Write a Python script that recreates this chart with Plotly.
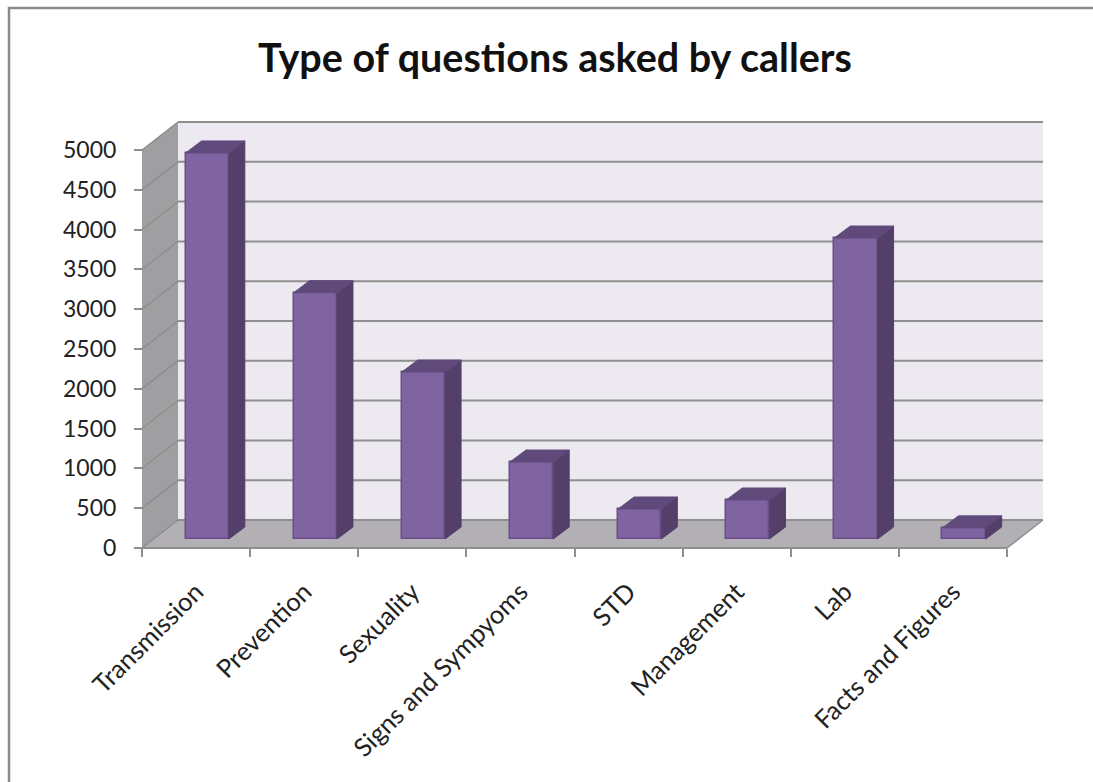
import plotly.graph_objects as go

categories = ["Transmission", "Prevention", "Sexuality", "Signs and Sympyoms",
              "STD", "Management", "Lab", "Facts and Figures"]
values = [4850, 3095, 2098, 967, 377, 490, 3781, 140]
y_ticks = list(range(0, 5001, 500))
title = "Type of questions asked by callers"

W, H = 1093, 782
PX_X0, PX_X8, PX_Y0, PX_Y5000 = 142.0, 1007.0, 548.0, 150.0
PAD = 4
PX_RIGHT, PX_TOP = 1045.0, 122.0
ux = (PX_X8 - PX_X0) / 8
uy = (PX_Y0 - PX_Y5000) / 5000

wall_dx, wall_dy = 36 / ux, 28 / uy      # depth of the chart box
bar_fx, bar_fy = 0.103, 9 / uy           # bar offset from the front edge
bar_dx, bar_dy = 16 / ux, 12 / uy        # depth of a bar
bar_w = 0.40

C_FRONT, C_EDGE, C_SIDE, C_TOP = "#8064A2", "#6A4F8C", "#533F69", "#604A7B"
C_WALL, C_SIDEWALL, C_FLOOR, C_GRID = "#ECEAF0", "#9F9FA1", "#B2B0B4", "#8F8F8F"
C_TEXT = "#222222"
FONT = "Lato"

x_range = [-PAD / ux, (PX_RIGHT - PX_X0) / ux + PAD / ux]
y_range = [-PAD / uy, (PX_Y0 - PX_TOP) / uy + PAD / uy]
L, R = PX_X0 - PAD, PX_RIGHT + PAD
B, T = PX_Y0 + PAD, PX_TOP - PAD


def poly(pts, fill):
    path = "M" + " L".join(f"{x},{y}" for x, y in pts) + " Z"
    return dict(type="path", path=path, xref="x", yref="y", fillcolor=fill,
                line=dict(width=0), layer="below")


def seg(x0, y0, x1, y1, color=C_GRID, width=2):
    return dict(type="line", x0=x0, y0=y0, x1=x1, y1=y1, xref="x", yref="y",
                line=dict(color=color, width=width), layer="below")


shapes = [
    poly([(wall_dx, wall_dy), (8 + wall_dx, wall_dy), (8 + wall_dx, 5000 + wall_dy), (wall_dx, 5000 + wall_dy)], C_WALL),
    poly([(0, 0), (wall_dx, wall_dy), (wall_dx, 5000 + wall_dy), (0, 5000)], C_SIDEWALL),
    poly([(0, 0), (8, 0), (8 + wall_dx, wall_dy), (wall_dx, wall_dy)], C_FLOOR),
]
for v in y_ticks:
    shapes.append(seg(wall_dx, v + wall_dy, 8 + wall_dx, v + wall_dy))
    shapes.append(seg(0, v, wall_dx, v + wall_dy, color="#8A8A8C", width=1.2))
shapes.append(seg(0, 0, 8, 0))
shapes.append(seg(8, 0, 8 + wall_dx, wall_dy, width=1.5))
# chart frame: left and top edges only
shapes.append(dict(type="path", xref="paper", yref="paper",
                   path=f"M{(9 - L) / (R - L)},{(B - H) / (B - T)} L{(9 - L) / (R - L)},{(B - 8) / (B - T)} L{(W - L) / (R - L)},{(B - 8) / (B - T)}",
                   line=dict(color="#8A8A8A", width=2.5), layer="below"))

centers = [i + 0.5 + bar_fx for i in range(len(values))]
fig = go.Figure()
fig.add_trace(go.Bar(x=centers, y=values, base=bar_fy, width=bar_w,
                     marker=dict(color=C_FRONT, line=dict(color=C_EDGE, width=1.5)),
                     showlegend=False))

# side and top faces of each bar, derived from the values
for c, v in zip(centers, values):
    xl, xr = c - bar_w / 2, c + bar_w / 2
    yb, yt = bar_fy, bar_fy + v
    fig.add_trace(go.Scatter(x=[xr, xr + bar_dx, xr + bar_dx, xr, xr],
                             y=[yb, yb + bar_dy, yt + bar_dy, yt, yb],
                             fill="toself", fillcolor=C_SIDE, mode="lines",
                             line=dict(color=C_SIDE, width=1), showlegend=False, hoverinfo="skip"))
    fig.add_trace(go.Scatter(x=[xl, xr, xr + bar_dx, xl + bar_dx, xl],
                             y=[yt, yt, yt + bar_dy, yt + bar_dy, yt],
                             fill="toself", fillcolor=C_TOP, mode="lines",
                             line=dict(color=C_TOP, width=1), showlegend=False, hoverinfo="skip"))

fig.update_layout(
    width=W, height=H, autosize=False,
    margin=dict(l=L, r=W - R, t=T, b=H - B, pad=0),
    paper_bgcolor="white", plot_bgcolor="white",
    shapes=shapes, bargap=0,
    font=dict(family=FONT, color=C_TEXT, size=23),
    title=dict(text=f"<b>{title}</b>", x=555 / W, xanchor="center", y=1 - 58 / H, yanchor="middle",
               font=dict(family=FONT, size=39.5, color="#111111")),
    xaxis=dict(range=x_range, anchor="free", position=(B - PX_Y0) / (B - T) * 1.0,
               domain=[0, 1], showgrid=False, zeroline=False, showline=False,
               tickmode="array", tickvals=[i + 0.5 for i in range(8)], ticktext=categories,
               ticks="", tickangle=-45, ticklabelstandoff=23,
               tickfont=dict(size=25.5, family=FONT, color=C_TEXT),
               minor=dict(tickmode="array", tickvals=list(range(9)), ticks="outside", ticklen=8,
                          tickwidth=2, tickcolor=C_GRID, showgrid=False)),
    yaxis=dict(range=y_range, anchor="free", position=(PX_X0 - L) / (R - L),
               domain=[0, 1], showgrid=False, zeroline=False, showline=False,
               tickmode="array", tickvals=y_ticks, ticks="outside", ticklen=8, tickwidth=2,
               ticklabelstandoff=13,
               tickcolor=C_GRID, tickfont=dict(size=23, family=FONT, color=C_TEXT)),
)

fig.write_html("out.html", config=dict(displayModeBar=False),
               post_script="document.body.style.margin='0';document.body.style.overflow='hidden';")
